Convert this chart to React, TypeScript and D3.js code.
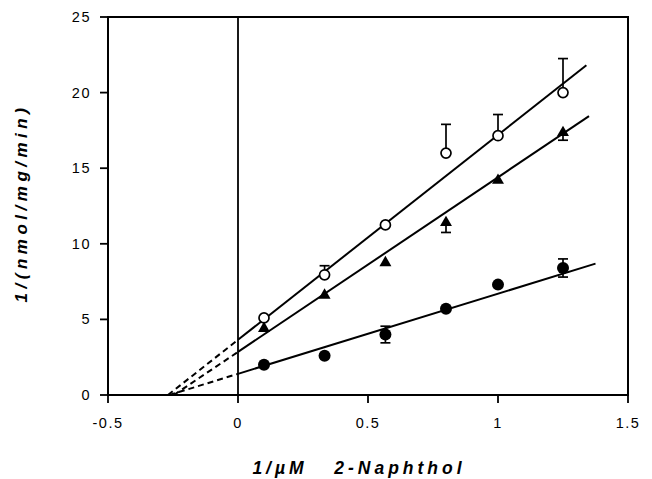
import { scaleLinear, line, symbol, symbolTriangle } from "d3";

// 1/[2-naphthol] (1/uM)
const xValues = [0.1, 0.333, 0.567, 0.8, 1.0, 1.25];

// open circles
const openY = [5.1, 7.95, 11.25, 16.0, 17.15, 20.0];
const openErr = [0, 0.6, 0, 1.9, 1.4, 2.25];

// filled triangles
const triY = [4.4, 6.6, 8.75, 11.4, 14.2, 17.35];
const triErr = [0, 0, 0, 0.65, 0, 0.5];

// filled circles
const fillY = [2.0, 2.6, 4.0, 5.7, 7.3, 8.4];
const fillErr = [0, 0, 0.55, 0, 0, 0.6];

// fitted regression lines: intercept, slope, last x
const fitIntercepts = [3.65, 2.85, 1.4];
const fitSlopes = [13.55, 11.55, 5.3];
const fitEnds = [1.34, 1.35, 1.375];

const xTicks = [-0.5, 0, 0.5, 1, 1.5];
const xTickLabels = ["-0.5", "0", "0.5", "1", "1.5"];
const yTicks = [0, 5, 10, 15, 20, 25];

const W = 652;
const H = 479;
const margin = { top: 17, right: 24, bottom: 84, left: 108 };

function App() {
  const x = scaleLinear()
    .domain([-0.5, 1.5])
    .range([margin.left, W - margin.right]);
  const y = scaleLinear()
    .domain([0, 25])
    .range([H - margin.bottom, margin.top]);

  const path = line<[number, number]>()
    .x((d) => x(d[0]))
    .y((d) => y(d[1]));

  const tri = symbol().type(symbolTriangle).size(62)();

  const x0 = x.range()[0];
  const x1 = x.range()[1];
  const y0 = y.range()[0];
  const y1 = y.range()[1];

  const errBar = (
    xv: number,
    yv: number,
    e: number,
    up: boolean,
    down: boolean,
    key: string
  ) => {
    if (!e) return null;
    const top = up ? y(yv + e) : y(yv);
    const bot = down ? y(yv - e) : y(yv);
    return (
      <g key={key} stroke="#000" strokeWidth={1.7}>
        <line x1={x(xv)} x2={x(xv)} y1={top} y2={bot} />
        {up && <line x1={x(xv) - 5} x2={x(xv) + 5} y1={top} y2={top} />}
        {down && <line x1={x(xv) - 5} x2={x(xv) + 5} y1={bot} y2={bot} />}
      </g>
    );
  };

  return (
    <svg
      width={W}
      height={H}
      style={{ position: "absolute", left: 0, top: 0, background: "#fff" }}
      fontFamily="'Liberation Sans', Arial, sans-serif"
    >
      {/* frame */}
      <rect
        x={x0}
        y={y1}
        width={x1 - x0}
        height={y0 - y1}
        fill="none"
        stroke="#000"
        strokeWidth={2}
      />
      {/* x = 0 line */}
      <line x1={x(0)} x2={x(0)} y1={y1} y2={y0} stroke="#000" strokeWidth={1.8} />

      {/* y ticks */}
      {yTicks.map((t) => (
        <g key={"y" + t}>
          <line x1={x0 - 8} x2={x0} y1={y(t)} y2={y(t)} stroke="#000" strokeWidth={1.8} />
          <text
            x={x0 - 17}
            y={y(t) + 5}
            textAnchor="end"
            fontSize={14.5}
            letterSpacing={1.5}
          >
            {t}
          </text>
        </g>
      ))}

      {/* x ticks */}
      {xTicks.map((t, i) => (
        <g key={"x" + t}>
          <line x1={x(t)} x2={x(t)} y1={y0} y2={y0 + 8} stroke="#000" strokeWidth={1.8} />
          <text
            x={x(t)}
            y={y0 + 33}
            textAnchor="middle"
            fontSize={14.5}
            letterSpacing={1.5}
          >
            {xTickLabels[i]}
          </text>
        </g>
      ))}

      {/* fitted lines: dashed extrapolation + solid fit */}
      {fitIntercepts.map((b, i) => {
        const m = fitSlopes[i];
        const xi = -b / m;
        return (
          <g key={"fit" + i} fill="none" stroke="#000" strokeWidth={2}>
            <path
              d={path([
                [xi, 0],
                [0, b],
              ]) ?? ""}
              strokeDasharray="6,4"
            />
            <path
              d={path([
                [0, b],
                [fitEnds[i], b + m * fitEnds[i]],
              ]) ?? ""}
            />
          </g>
        );
      })}

      {/* error bars */}
      {xValues.map((xv, i) => errBar(xv, openY[i], openErr[i], true, false, "eo" + i))}
      {xValues.map((xv, i) => errBar(xv, triY[i], triErr[i], false, true, "et" + i))}
      {xValues.map((xv, i) => errBar(xv, fillY[i], fillErr[i], true, true, "ef" + i))}

      {/* markers */}
      {xValues.map((xv, i) => (
        <circle
          key={"o" + i}
          cx={x(xv)}
          cy={y(openY[i])}
          r={5}
          fill="#fff"
          stroke="#000"
          strokeWidth={1.7}
        />
      ))}
      {xValues.map((xv, i) => (
        <path
          key={"t" + i}
          d={tri ?? ""}
          transform={`translate(${x(xv)},${y(triY[i])})`}
          fill="#000"
        />
      ))}
      {xValues.map((xv, i) => (
        <circle key={"f" + i} cx={x(xv)} cy={y(fillY[i])} r={6} fill="#000" />
      ))}

      {/* axis titles */}
      <text
        transform="translate(27,203) rotate(-90)"
        textAnchor="middle"
        fontSize={17}
        fontWeight="bold"
        fontStyle="italic"
        letterSpacing={4.5}
      >
        1/(nmol/mg/min)
      </text>
      <text
        x={359}
        y={474}
        textAnchor="middle"
        fontSize={17.5}
        fontWeight="bold"
        fontStyle="italic"
        letterSpacing={4}
        xmlSpace="preserve"
      >
        {"1/\u00b5M   2-Naphthol"}
      </text>
    </svg>
  );
}

export default App;
